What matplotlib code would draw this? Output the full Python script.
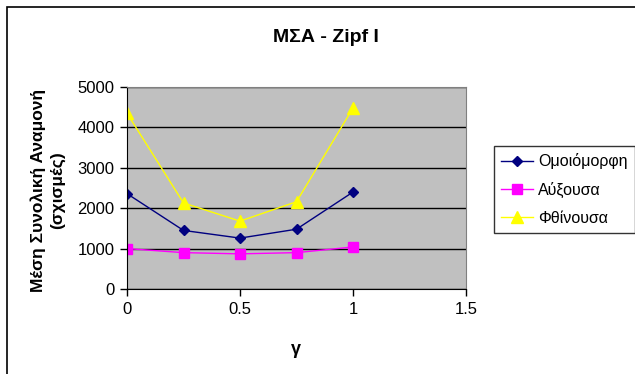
import matplotlib
matplotlib.use("Agg")
import matplotlib.pyplot as plt
from matplotlib.patches import Rectangle

plt.rcParams['font.family'] = ['Liberation Sans', 'DejaVu Sans']

gamma = [0, 0.25, 0.5, 0.75, 1]
uniform = [2360, 1450, 1260, 1480, 2400]
increasing = [1000, 900, 870, 900, 1040]
decreasing = [4350, 2130, 1680, 2160, 4480]
series_names = ['Ομοιόμορφη', 'Αύξουσα', 'Φθίνουσα']
title = 'ΜΣΑ - Zipf I'
ylabel = 'Μέση Συνολική Αναμονή\n(σχισμές)'
xlabel = 'γ'

W, H = 635, 374
fig = plt.figure(figsize=(W / 100, H / 100), dpi=100)
fig.patch.set_facecolor('white')

# outer chart frame
fig.patches.append(Rectangle((7 / W, -0.1), 1.1, 1 - 7 / H + 0.1,
                             transform=fig.transFigure, fill=False,
                             edgecolor='black', linewidth=1.2))

ax = fig.add_axes([127 / W, 1 - 289 / H, (466 - 127) / W, (289 - 87) / H])
ax.set_facecolor('#C0C0C0')

l1, = ax.plot(gamma, uniform, color='#000080', marker='D', markersize=5, linewidth=1)
l2, = ax.plot(gamma, increasing, color='#FF00FF', marker='s', markersize=7, linewidth=1)
l3, = ax.plot(gamma, decreasing, color='#FFFF00', marker='^', markersize=8, linewidth=1)

ax.set_xlim(0, 1.5)
ax.set_ylim(0, 5000)
ax.set_xticks([0, 0.5, 1, 1.5])
ax.set_xticklabels(['0', '0.5', '1', '1.5'])
ax.set_yticks([0, 1000, 2000, 3000, 4000, 5000])
ax.yaxis.grid(True, color='black', linewidth=1)
ax.set_axisbelow(True)
ax.tick_params(direction='out', length=5, width=1, labelsize=12, pad=4)
for s in ['top', 'right']:
    ax.spines[s].set_color('#808080')
for s in ['left', 'bottom']:
    ax.spines[s].set_color('black')

fig.text(326 / W, 1 - 37 / H, title, ha='center', va='center',
         fontsize=14, fontweight='bold')
fig.text(296 / W, 1 - 349 / H, xlabel, ha='center', va='center',
         fontsize=13, fontweight='bold')
fig.text(48 / W, 1 - 190 / H, ylabel, ha='center', va='center',
         rotation=90, fontsize=12.5, fontweight='bold', linespacing=1.35)

leg = fig.legend([l1, l2, l3], series_names, loc='upper left',
                 bbox_to_anchor=(494 / W, 1 - 146 / H), fontsize=11.5,
                 frameon=True, fancybox=False, edgecolor='black',
                 handlelength=2.0, borderpad=0.45, labelspacing=0.8,
                 handletextpad=0.3, borderaxespad=0)
leg.get_frame().set_linewidth(1)

fig.savefig('out.png', dpi=100)
